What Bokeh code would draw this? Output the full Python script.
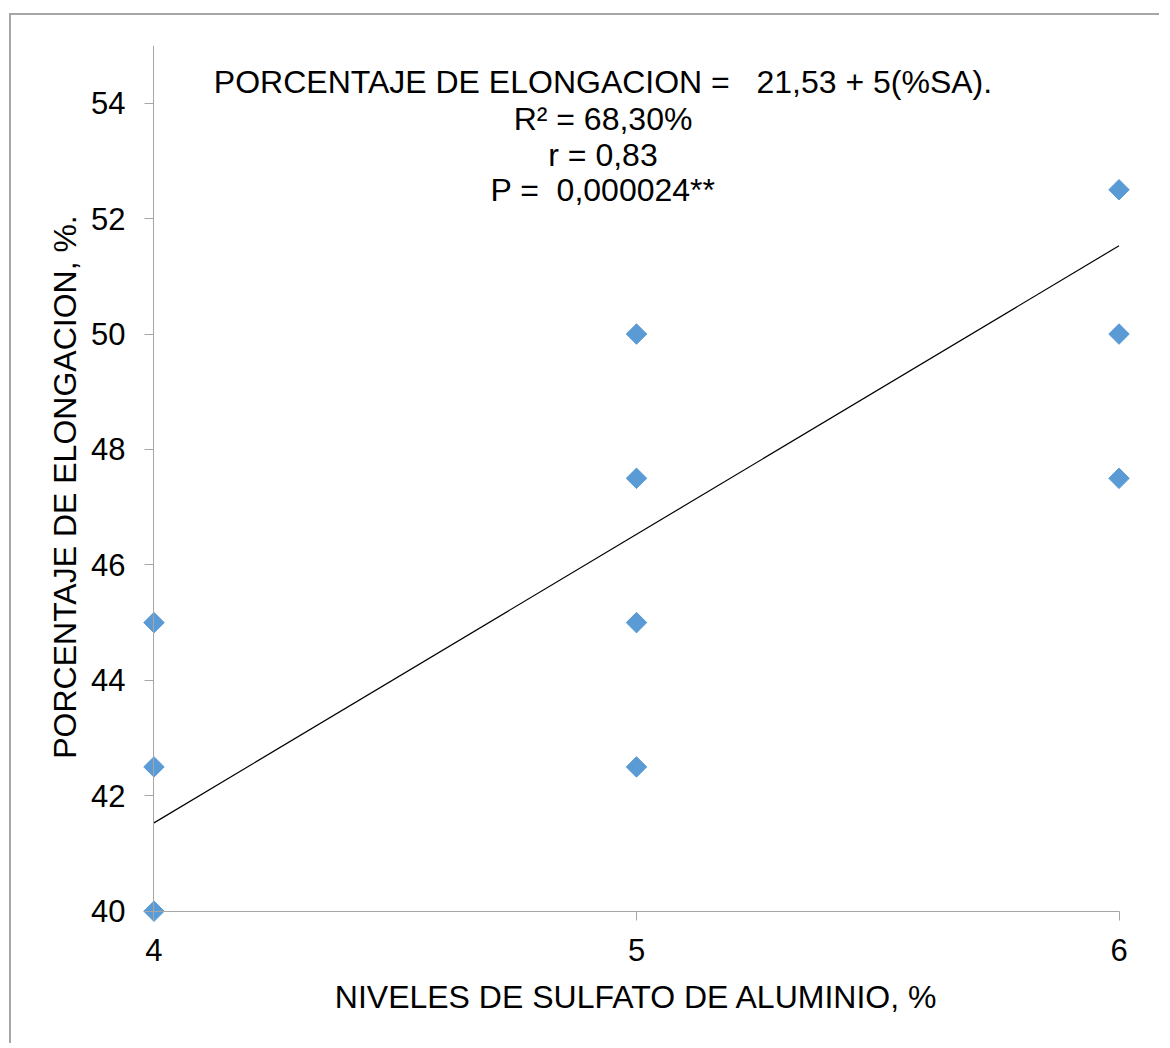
from bokeh.plotting import figure
from bokeh.models import Label, FixedTicker, Range1d, LinearAxis
from bokeh.embed import file_html
from bokeh.resources import INLINE
import numpy as np

# data
x_vals = [4, 4, 4, 5, 5, 5, 5, 6, 6, 6]
y_vals = [45, 42.5, 40, 50, 47.5, 45, 42.5, 52.5, 50, 47.5]
intercept = 21.53
slope = 5.0
x_ticks = [4, 5, 6]
y_ticks = [40, 42, 44, 46, 48, 50, 52, 54]
eq_lines = ["PORCENTAJE DE ELONGACION =\u00a0\u00a0\u00a021,53 + 5(%SA).",
            "R² = 68,30%",
            "r = 0,83",
            "P =\u00a0\u00a00,000024**"]
x_title = "NIVELES DE SULFATO DE ALUMINIO, %"
y_title = "PORCENTAJE DE ELONGACION, %."

FONT = "Liberation Sans"
AX = "#a6a6a6"

p = figure(width=1150, height=1030, output_backend="svg", toolbar_location=None,
           x_range=Range1d(3.97, 6.03), y_range=Range1d(39.7, 55),
           min_border_left=128, min_border_right=28, min_border_top=30, min_border_bottom=117)
p.styles = {"border-left": "2px solid #a6a6a6", "border-top": "2px solid #a6a6a6",
            "margin-left": "9px", "margin-top": "13px"}
p.outline_line_color = None
p.grid.visible = False
p.background_fill_color = "white"

# label/title axes at frame edges (no line, no ticks)
for ax in (p.xaxis[0], p.yaxis[0]):
    ax.axis_line_color = None
    ax.major_tick_line_color = None
    ax.minor_tick_line_color = None
    ax.major_tick_in = 0
    ax.major_tick_out = 0
    ax.major_label_text_font = FONT
    ax.major_label_text_font_size = "31px"
    ax.major_label_text_color = "black"
    ax.axis_label_text_font = FONT
    ax.axis_label_text_font_size = "32px"
    ax.axis_label_text_font_style = "normal"
    ax.axis_label_text_color = "black"

p.xaxis[0].ticker = FixedTicker(ticks=x_ticks)
p.yaxis[0].ticker = FixedTicker(ticks=y_ticks)
p.xaxis[0].axis_label = x_title
p.yaxis[0].axis_label = y_title
p.xaxis[0].major_label_standoff = 10
p.yaxis[0].major_label_standoff = 14
p.xaxis[0].axis_label_standoff = 15
p.yaxis[0].axis_label_standoff = 5

# axis lines with ticks at the data origin
def line_axis(ticks, bounds, loc):
    a = LinearAxis(ticker=FixedTicker(ticks=ticks), bounds=bounds, fixed_location=loc,
                   axis_line_color=AX, major_tick_line_color=AX, minor_tick_line_color=None,
                   major_tick_in=0, major_tick_out=9, major_label_standoff=0,
                   major_label_text_font_size="1px", major_label_text_alpha=0)
    return a

p.add_layout(line_axis(x_ticks, (min(x_ticks), max(x_ticks)), 40), "below")
p.add_layout(line_axis(y_ticks, (40, 55), 4), "left")

# trend line
xl = np.array([min(x_ticks), max(x_ticks)], dtype=float)
p.line(xl, intercept + slope * xl, line_color="black", line_width=1.2)

# points
p.scatter(x_vals, y_vals, marker="square", angle=np.pi / 4, size=14.5,
          fill_color="#5b9bd5", line_color="#5b9bd5")

label_y = [54.359, 53.718, 53.094, 52.488]
for t, yy in zip(eq_lines, label_y):
    p.add_layout(Label(x=4.9306, y=yy, text=t, text_align="center", text_baseline="middle",
                       text_font=FONT, text_font_size="32px", text_color="black"))

open("out.html", "w").write(file_html(p, INLINE))
